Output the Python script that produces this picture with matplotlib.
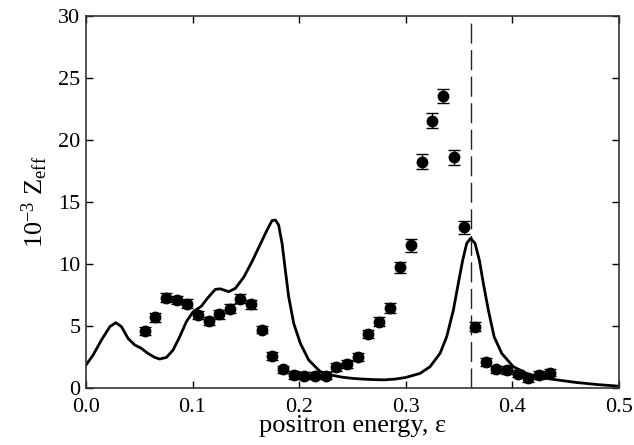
import numpy as np
import matplotlib
matplotlib.use("Agg")
import matplotlib.pyplot as plt

plt.rcParams["font.family"] = "Liberation Serif"
plt.rcParams["mathtext.fontset"] = "custom"
plt.rcParams["mathtext.rm"] = "Liberation Serif"
plt.rcParams["mathtext.it"] = "Liberation Serif:italic"

# measured points (energy, 10^-3 Zeff, error)
exp_x = [0.055, 0.065, 0.075, 0.085, 0.095, 0.105, 0.115, 0.125, 0.135, 0.145,
         0.155, 0.165, 0.175, 0.185, 0.195, 0.205, 0.215, 0.225, 0.235, 0.245,
         0.255, 0.265, 0.275, 0.285, 0.295, 0.305, 0.315, 0.325, 0.335, 0.345,
         0.355, 0.365, 0.375, 0.385, 0.395, 0.405, 0.415, 0.425, 0.435]
exp_y = [4.6, 5.7, 7.3, 7.1, 6.8, 5.9, 5.4, 5.95, 6.4, 7.2,
         6.75, 4.7, 2.6, 1.5, 1.05, 1.0, 1.0, 1.0, 1.7, 1.95,
         2.5, 4.35, 5.35, 6.45, 9.75, 11.5, 18.25, 21.55, 23.55, 18.6,
         12.95, 4.95, 2.1, 1.5, 1.45, 1.15, 0.8, 1.05, 1.25]
exp_err = [0.35, 0.35, 0.35, 0.35, 0.35, 0.35, 0.35, 0.35, 0.35, 0.35,
           0.35, 0.3, 0.3, 0.3, 0.3, 0.3, 0.3, 0.3, 0.3, 0.3,
           0.3, 0.3, 0.35, 0.4, 0.45, 0.5, 0.6, 0.6, 0.6, 0.6,
           0.55, 0.35, 0.3, 0.3, 0.3, 0.3, 0.3, 0.3, 0.3]

# theory curve
th_x = [0.0, 0.0067, 0.0145, 0.0224, 0.028, 0.0333, 0.0395, 0.0458, 0.052, 0.058,
        0.0645, 0.0692, 0.0755, 0.0817, 0.088, 0.0942, 0.1005, 0.1083, 0.1136, 0.1214,
        0.1261, 0.134, 0.1402, 0.148, 0.1558, 0.1636, 0.1699, 0.1746, 0.1777, 0.1808,
        0.184, 0.1871, 0.1902, 0.195, 0.2012, 0.209, 0.2168, 0.22, 0.23, 0.24,
        0.25, 0.26, 0.27, 0.28, 0.29, 0.30, 0.3135, 0.3229, 0.3323, 0.3385,
        0.3448, 0.3494, 0.3535, 0.3573, 0.361, 0.3651, 0.3692, 0.3729, 0.3776, 0.383,
        0.3901, 0.401, 0.4166, 0.43, 0.44, 0.46, 0.48, 0.5]
th_y = [1.85, 2.66, 3.87, 4.95, 5.27, 4.95, 4.0, 3.47, 3.2, 2.8,
        2.47, 2.34, 2.47, 3.06, 4.14, 5.35, 6.15, 6.6, 7.2, 7.96,
        8.0, 7.77, 8.04, 8.93, 10.19, 11.6, 12.74, 13.5, 13.55, 13.15,
        11.67, 9.5, 7.37, 5.2, 3.6, 2.26, 1.58, 1.32, 1.05, 0.88,
        0.78, 0.72, 0.68, 0.66, 0.72, 0.85, 1.18, 1.72, 2.8, 4.14,
        6.29, 8.44, 10.3, 11.67, 12.07, 11.67, 10.3, 8.44, 6.29, 4.14,
        2.8, 1.72, 1.05, 0.8, 0.68, 0.45, 0.28, 0.15]

resonance_x = 0.361

fig = plt.figure(figsize=(6.34, 4.45), dpi=100)
ax = fig.add_axes([0.1356, 0.128, 0.8404, 0.836])

ax.plot(th_x, th_y, color="black", lw=2.0, zorder=2, solid_joinstyle="round")
ax.errorbar(exp_x, exp_y, yerr=exp_err, fmt="o", color="black", ms=7.5,
            capsize=4, elinewidth=1.0, capthick=1.0, zorder=3)
ax.plot([resonance_x, resonance_x], [0, 29.5], color="#222222", lw=1.0,
        dashes=(14.4, 4.7), zorder=1)

ax.set_xlim(0, 0.5)
ax.set_ylim(0, 30)
ax.set_xticks([0.0, 0.1, 0.2, 0.3, 0.4, 0.5])
ax.set_xticklabels(["0.0", "0.1", "0.2", "0.3", "0.4", "0.5"])
ax.set_yticks([0, 5, 10, 15, 20, 25, 30])
ax.tick_params(direction="in", top=True, right=True, length=5, width=1,
               labelsize=16)
ax.tick_params(axis="x", pad=7)
ax.tick_params(axis="y", pad=4)
for s in ax.spines.values():
    s.set_linewidth(1.2)
    s.set_color("#333333")

ax.set_xlabel("positron energy, \u03b5", fontsize=19, labelpad=-1)
ax.set_ylabel(r"10$^{-3}$ Z$_{\rm eff}$", fontsize=19, labelpad=6)

fig.savefig("out.png", dpi=100)
